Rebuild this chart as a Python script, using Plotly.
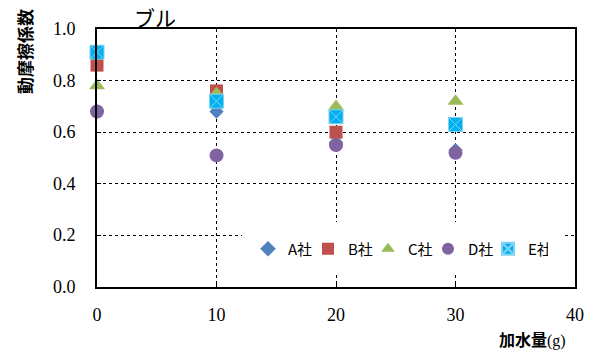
import plotly.graph_objects as go

# 加水量 (g)
water = [0, 10, 20, 30]

# 動摩擦係数 per company
series_a = [0.68, 0.68, 0.56, 0.53]
series_b = [0.86, 0.76, 0.60, 0.63]
series_c = [0.78, 0.75, 0.70, 0.72]
series_d = [0.68, 0.51, 0.55, 0.52]
series_e = [0.91, 0.72, 0.66, 0.63]

names = ["A社", "B社", "C社", "D社", "E社"]
y_ticks = [0.0, 0.2, 0.4, 0.6, 0.8, 1.0]
y_labels = ["0.0", "0.2", "0.4", "0.6", "0.8", "1.0"]
x_ticks = [0, 10, 20, 30, 40]

W, H = 595, 353
L, R, T, B = 97, 575, 29, 287  # plot area in pixels


def px(x):
    return (x - L) / (R - L)


def py(y):
    return (B - y) / (B - T)


styles = [
    dict(symbol="diamond", color="#4F81BD", size=11, line=dict(width=0)),
    dict(symbol="square", color="#C0504D", size=13, line=dict(width=0)),
    dict(symbol="triangle-up", color="#9BBB59", size=14, line=dict(width=0)),
    dict(symbol="circle", color="#8064A2", size=14, line=dict(width=0)),
    dict(symbol="square-x", color="#00B0F0", size=14,
         line=dict(width=1, color="#7FD3F5")),
]

fig = go.Figure()
for name, vals, mk in zip(names, [series_a, series_b, series_c, series_d, series_e], styles):
    fig.add_trace(go.Scatter(x=water, y=vals, mode="markers", name=name,
                             marker=mk, cliponaxis=False, hoverinfo="skip"))

serif = "Liberation Serif"
jp = "Noto Sans CJK JP"


def axis_style():
    return dict(
        showline=True, linecolor="black", linewidth=2, mirror=True,
        showgrid=True, gridcolor="black", griddash="dot", gridwidth=1,
        ticks="inside", ticklen=4, tickcolor="black", tickwidth=1,
        zeroline=False,
        tickfont=dict(family=serif, size=18, color="black"),
    )


# value labels of the y axis, placed at their tick values on the y scale
y_label_notes = [
    dict(text=lab, xref="paper", yref="y", x=px(78), y=v,
         xanchor="right", yanchor="middle", showarrow=False,
         font=dict(family=serif, size=18, color="black"))
    for v, lab in zip(y_ticks, y_labels)
]

fig.update_layout(
    width=W, height=H,
    margin=dict(l=L, r=W - R, t=T, b=H - B),
    paper_bgcolor="white", plot_bgcolor="white",
    font=dict(family=serif, color="black"),
    showlegend=True,
    xaxis=dict(range=[0, 40], tickvals=x_ticks, ticktext=[str(v) for v in x_ticks],
               ticklabelstandoff=10, **axis_style()),
    yaxis=dict(range=[0, 1.0], tickvals=y_ticks, showticklabels=False, **axis_style()),
    legend=dict(orientation="h", x=px(248), y=py(249), xanchor="left", yanchor="middle",
                xref="paper", yref="paper", bgcolor="rgba(0,0,0,0)",
                font=dict(family=jp, size=15, color="black"),
                entrywidth=15, entrywidthmode="pixels", itemwidth=30,
                itemsizing="constant", tracegroupgap=0),
    shapes=[dict(type="rect", xref="paper", yref="paper",
                 x0=px(242), x1=px(563), y0=py(275), y1=py(222),
                 fillcolor="white", line=dict(width=0), layer="above")],
    annotations=y_label_notes + [
        dict(text="ブル", xref="paper", yref="paper", x=px(155), y=py(17),
             xanchor="center", yanchor="middle", showarrow=False,
             font=dict(family=jp, size=21, color="black")),
        dict(text="<b>動摩擦係数</b>", xref="paper", yref="paper", x=px(24), y=py(52),
             xanchor="center", yanchor="middle", textangle=-90, showarrow=False,
             font=dict(family=jp, size=17, color="black")),
        dict(text="<b>加水量</b><span style=\"font-family:'Liberation Serif'\">(g)</span>",
             xref="paper", yref="paper", x=px(568), y=py(353),
             xanchor="right", yanchor="bottom", showarrow=False,
             font=dict(family=jp, size=16, color="black")),
    ],
)

fig.write_html("out.html", config={"displayModeBar": False})
